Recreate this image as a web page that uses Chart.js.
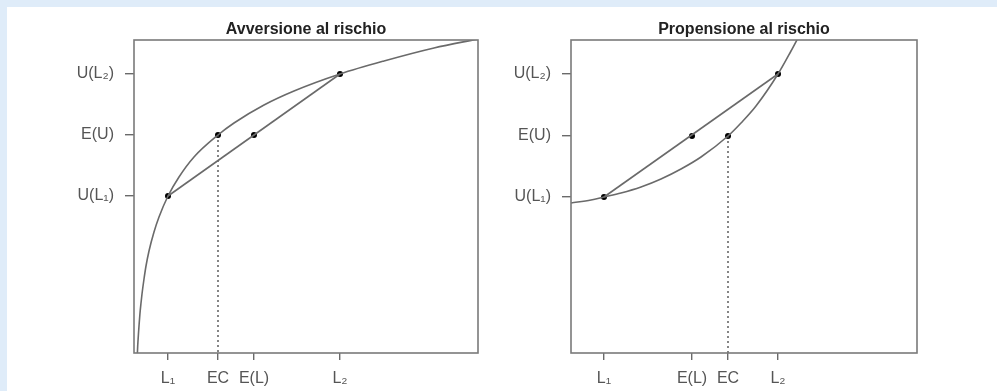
<!DOCTYPE html>
<html>
<head>
<meta charset="utf-8">
<script src="https://cdn.jsdelivr.net/npm/chart.js@4/dist/chart.umd.min.js"></script>
<style>
  body { margin: 0; background: #fff; }
  #wrap { position: relative; width: 997px; height: 391px; background: #fff; overflow: hidden; }
  .strip { position: absolute; background: #dfecf9; }
  canvas { position: absolute; top: 0; }
</style>
</head>
<body>
<div id="wrap">
  <div class="strip" style="left:0;top:0;width:997px;height:7px"></div>
  <div class="strip" style="left:0;top:0;width:7px;height:391px"></div>
  <canvas id="left" width="500" height="391" style="left:0"></canvas>
  <canvas id="right" width="497" height="391" style="left:500px"></canvas>
</div>
<script>
// avversione al rischio (concava)
const leftCurveX = [3.4, 3.7, 4, 4.5, 5, 6, 7, 8, 10, 12, 15, 20, 25, 34, 45, 60, 84, 100, 130, 160, 206, 250, 300, 344];
const leftCurveY = [0, 7, 12, 20, 27, 40, 50, 59, 74, 87, 102, 121, 136, 157, 176, 196, 218, 230, 248, 262, 279, 292, 305, 314];
const leftDotX = [34, 84, 120, 206];
const leftDotY = [157, 218, 218, 279];
const leftXTicks = [34, 84, 120, 206];
const leftXLabels = ['L\u2081', 'EC', 'E(L)', 'L\u2082'];
const leftYTicks = [157, 218, 279];

// propensione al rischio (convessa)
const rightCurveX = [0, 20, 33, 50, 70, 90, 110, 130, 157, 170, 185, 207, 220, 228];
const rightCurveY = [150, 153, 156, 160, 166, 174, 184, 196, 217, 230, 247, 279, 302, 317];
const rightDotX = [33, 121, 157, 207];
const rightDotY = [156, 217, 217, 279];
const rightXTicks = [33, 121, 157, 207];
const rightXLabels = ['L\u2081', 'E(L)', 'EC', 'L\u2082'];
const rightYTicks = [156, 217, 279];

const yLabels = ['U(L\u2081)', 'E(U)', 'U(L\u2082)'];

const FONT = 'Liberation Sans, Arial, DejaVu Sans, sans-serif';
const GREY = '#6a6a6a';
const LABEL = '#555';

const boxPlugin = {
  id: 'box',
  afterDraw(chart, args, opts) {
    const a = chart.chartArea, ctx = chart.ctx;
    ctx.save();
    ctx.strokeStyle = '#7a7a7a';
    ctx.lineWidth = 1.6;
    ctx.strokeRect(a.left, a.top, a.right - a.left, a.bottom - a.top);
    ctx.fillStyle = '#222';
    ctx.font = 'bold 16px ' + FONT;
    ctx.textAlign = 'center';
    ctx.textBaseline = 'middle';
    ctx.fillText(opts.text, (a.left + a.right) / 2, 30);
    ctx.restore();
  }
};

function makeChart(id, cfg) {
  const pts = (xs, ys) => xs.map((x, i) => ({ x: x, y: ys[i] }));
  new Chart(document.getElementById(id), {
    type: 'line',
    data: {
      datasets: [
        { data: pts(cfg.curveX, cfg.curveY), borderColor: GREY, borderWidth: 1.6,
          pointRadius: 0, cubicInterpolationMode: 'monotone' },
        { data: [{ x: cfg.dotX[0], y: cfg.dotY[0] }, { x: cfg.dotX[3], y: cfg.dotY[3] }],
          borderColor: GREY, borderWidth: 1.6, pointRadius: 0 },
        { data: [{ x: cfg.ecX, y: cfg.ecY }, { x: cfg.ecX, y: 0 }],
          borderColor: '#444', borderWidth: 1.3, borderDash: [2, 3], pointRadius: 0 },
        { data: pts(cfg.dotX, cfg.dotY), showLine: false, pointRadius: 3,
          pointBackgroundColor: '#000', pointBorderWidth: 0 }
      ]
    },
    options: {
      responsive: false,
      animation: false,
      devicePixelRatio: 1,
      layout: { padding: { left: 0, top: 40, right: cfg.padRight, bottom: 0 } },
      plugins: { legend: { display: false }, tooltip: { enabled: false }, box: { text: cfg.title } },
      scales: {
        x: {
          type: 'linear', min: 0, max: cfg.xMax,
          afterBuildTicks: s => { s.ticks = cfg.xTicks.map(v => ({ value: v })); },
          afterFit: s => { s.height = 38; },
          ticks: { autoSkip: false, maxRotation: 0, padding: 9, color: LABEL,
            font: { family: FONT, size: 16 },
            callback: v => cfg.xLabels[cfg.xTicks.indexOf(v)] },
          grid: { drawOnChartArea: false, drawTicks: true, tickLength: 7, color: GREY, lineWidth: 1.4 },
          border: { display: false }
        },
        y: {
          type: 'linear', min: 0, max: 313,
          afterBuildTicks: s => { s.ticks = cfg.yTicks.map(v => ({ value: v })); },
          afterFit: s => { s.width = cfg.yWidth; },
          ticks: { padding: 11, color: LABEL, font: { family: FONT, size: 16 },
            callback: v => yLabels[cfg.yTicks.indexOf(v)] },
          grid: { drawOnChartArea: false, drawTicks: true, tickLength: 9, color: GREY, lineWidth: 1.4 },
          border: { display: false }
        }
      }
    },
    plugins: [boxPlugin]
  });
}

makeChart('left', {
  title: 'Avversione al rischio', curveX: leftCurveX, curveY: leftCurveY,
  dotX: leftDotX, dotY: leftDotY, ecX: leftDotX[1], ecY: leftDotY[1],
  xTicks: leftXTicks, xLabels: leftXLabels, yTicks: leftYTicks,
  xMax: 344, yWidth: 134, padRight: 22
});
makeChart('right', {
  title: 'Propensione al rischio', curveX: rightCurveX, curveY: rightCurveY,
  dotX: rightDotX, dotY: rightDotY, ecX: rightDotX[2], ecY: rightDotY[2],
  xTicks: rightXTicks, xLabels: rightXLabels, yTicks: rightYTicks,
  xMax: 346, yWidth: 71, padRight: 80
});
</script>
</body>
</html>
